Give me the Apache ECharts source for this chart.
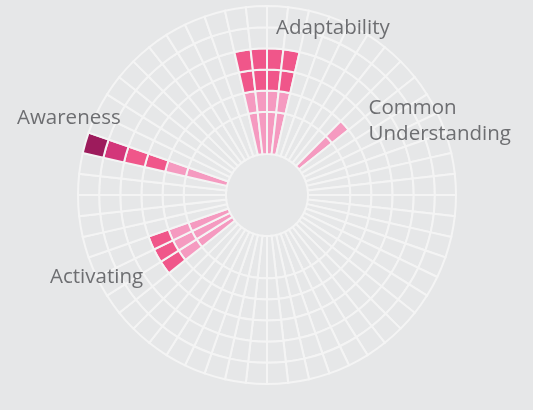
<!DOCTYPE html>
<html>
<head>
<meta charset="utf-8">
<script src="https://cdn.jsdelivr.net/npm/echarts@6/dist/echarts.min.js"></script>
<style>
  html, body { margin: 0; padding: 0; background: #e6e7e8; }
  #chart { width: 533px; height: 410px; }
</style>
</head>
<body>
<div id="chart"></div>
<script>
// 56 angular slots, clockwise from 12 o'clock
const sectors = Array.from({length: 56}, (_, i) => 'S' + (i + 1));
// number of filled rings per slot (0..6)
const levels = [
  4, 4, 0, 0, 0, 0, 0, 2, 0, 0, 0, 0, 0, 0,
  0, 0, 0, 0, 0, 0, 0, 0, 0, 0, 0, 0, 0, 0,
  0, 0, 0, 0, 0, 0, 0, 0, 3, 3, 3, 0, 0, 0,
  0, 0, 6, 0, 0, 0, 0, 0, 0, 0, 0, 0, 4, 4
];
// radial thickness of each ring, inner ring is double
const ringSizes = [2, 1, 1, 1, 1, 1];
const ringColors = ['#f59ac0', '#f59ac0', '#f0568a', '#f0568a', '#d3367a', '#9d1b5c'];
const bg = '#e6e7e8';

const chart = echarts.init(document.getElementById('chart'));

const series = ringSizes.map((size, r) => ({
  type: 'bar',
  coordinateSystem: 'polar',
  stack: 'rings',
  barCategoryGap: '0%',
  silent: true,
  data: sectors.map((_, i) => ({
    value: size,
    itemStyle: {color: levels[i] > r ? ringColors[r] : bg}
  })),
  itemStyle: {borderColor: '#f4f4f4', borderWidth: 2}
}));

const labelStyle = {
  fill: '#6d6e71',
  fontFamily: 'Open Sans',
  fontSize: 20.5
};

chart.setOption({
  backgroundColor: bg,
  animation: false,
  polar: {
    center: [267, 195],
    radius: [41, 189]
  },
  angleAxis: {
    type: 'category',
    data: sectors,
    startAngle: 90,
    axisLine: {show: false},
    axisTick: {show: false},
    axisLabel: {show: false},
    splitLine: {show: false}
  },
  radiusAxis: {
    type: 'value',
    min: 0,
    max: 7,
    show: false
  },
  series: series,
  graphic: [
    {type: 'text', left: 276, top: 18, z: 10, style: Object.assign({text: 'Adaptability'}, labelStyle)},
    {type: 'text', right: 22, top: 95, z: 10, style: Object.assign({text: 'Common\nUnderstanding', align: 'right', lineHeight: 26}, labelStyle)},
    {type: 'text', left: 17, top: 108, z: 10, style: Object.assign({text: 'Awareness'}, labelStyle)},
    {type: 'text', left: 50, top: 267, z: 10, style: Object.assign({text: 'Activating'}, labelStyle)}
  ]
});
</script>
</body>
</html>
